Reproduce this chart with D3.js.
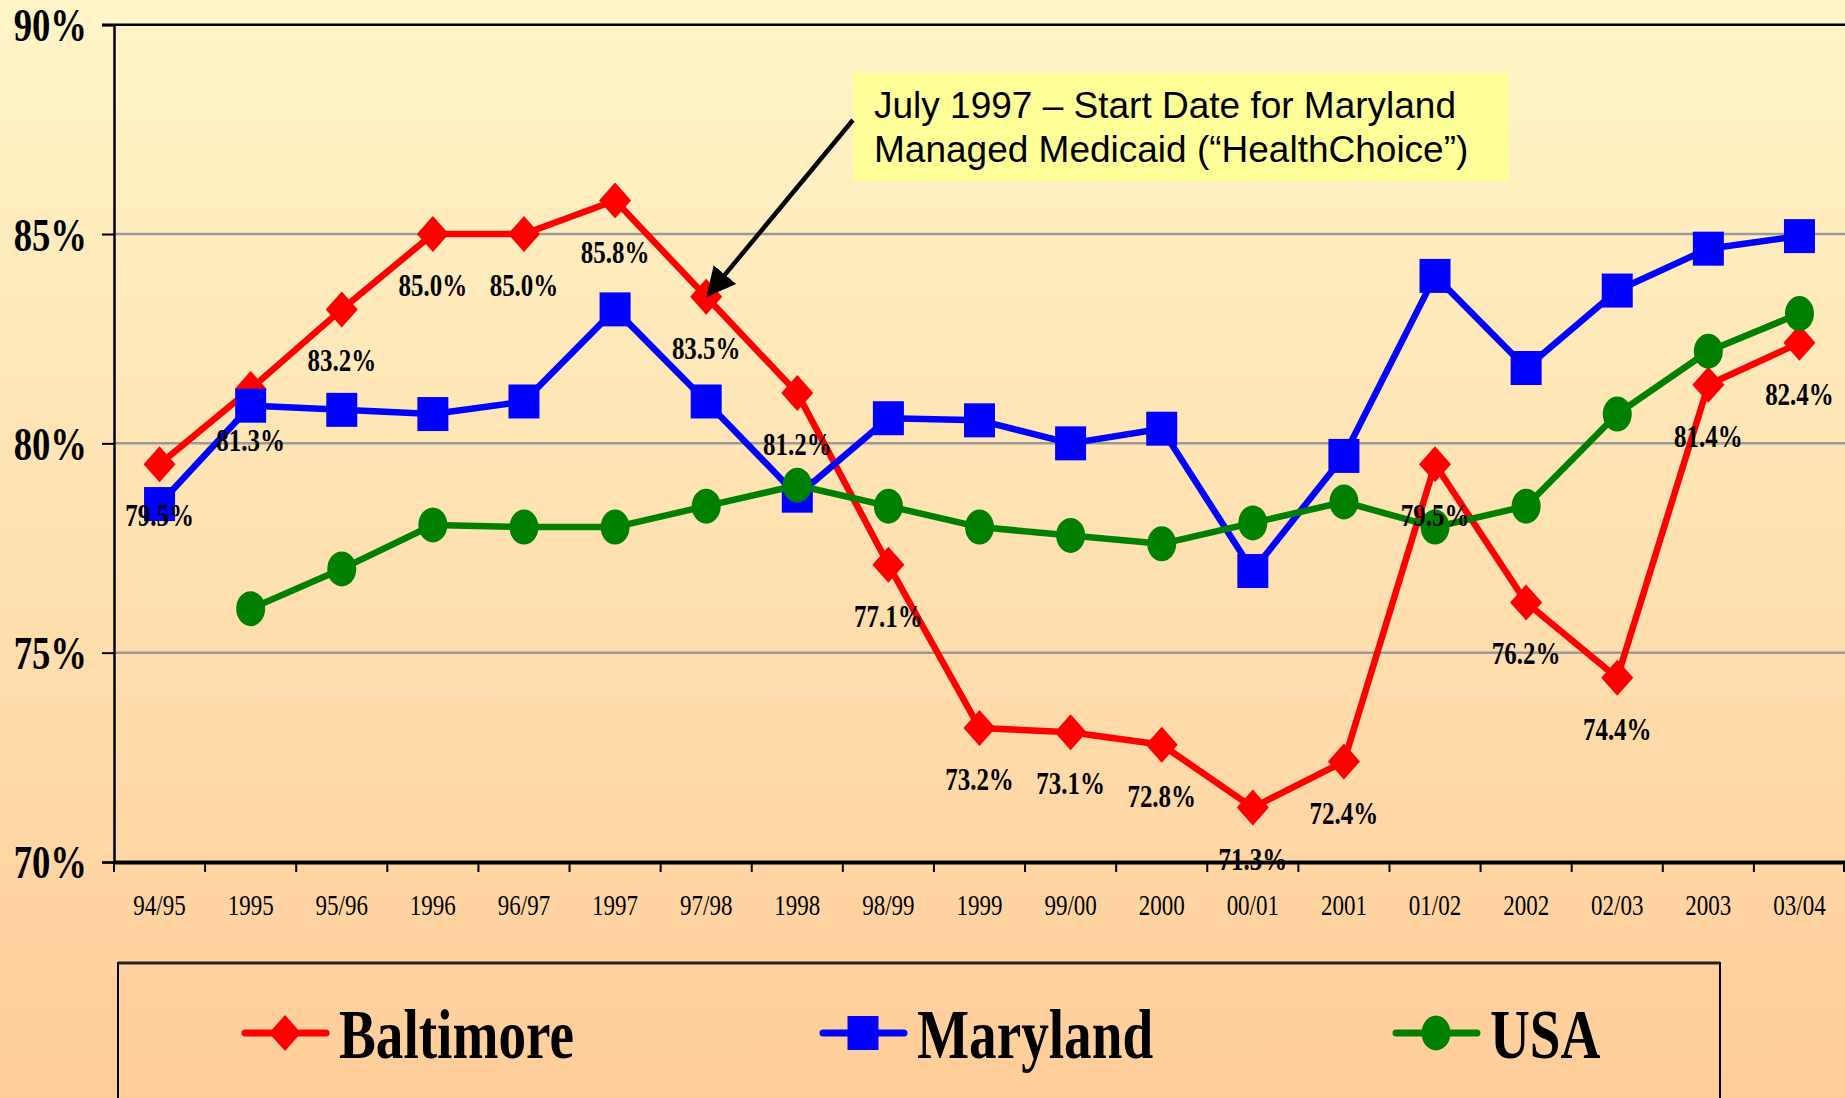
<!DOCTYPE html>
<html>
<head>
<meta charset="utf-8">
<script src="https://cdn.jsdelivr.net/npm/d3@7"></script>
<style>
  body { margin: 0; overflow: hidden; }
  svg { display: block; }
</style>
</head>
<body>
<svg id="chart" width="1845" height="1098"></svg>
<script>
// data
const categories = ["94/95", "1995", "95/96", "1996", "96/97", "1997", "97/98", "1998", "98/99", "1999",
  "99/00", "2000", "00/01", "2001", "01/02", "2002", "02/03", "2003", "03/04"];
const baltimore = [79.5, 81.3, 83.2, 85.0, 85.0, 85.8, 83.5, 81.2, 77.1, 73.2, 73.1, 72.8, 71.3, 72.4, 79.5, 76.2, 74.4, 81.4, 82.4];
const maryland = [78.55, 80.9, 80.8, 80.7, 81.0, 83.2, 81.0, 78.75, 80.6, 80.55, 80.0, 80.35, 76.95, 79.7, 84.0, 81.8, 83.65, 84.65, 84.95];
const usa = [null, 76.05, 77.0, 78.05, 78.0, 78.0, 78.5, 79.0, 78.5, 78.0, 77.8, 77.6, 78.1, 78.6, 78.0, 78.5, 80.7, 82.2, 83.1];
const yTicks = [70, 75, 80, 85, 90];
const gridTicks = [75, 80, 85];
const seriesNames = ["Baltimore", "Maryland", "USA"];
const noteLines = ["July 1997 \u2013 Start Date for Maryland", "Managed Medicaid (\u201cHealthChoice\u201d)"];

const serif = "'Liberation Serif', 'Times New Roman', serif";
const squeeze = 0.78; // the picture is squashed sideways, text too

const svg = d3.select("#chart");

// background gradient
const grad = svg.append("defs").append("linearGradient")
  .attr("id", "bg").attr("x1", 0).attr("y1", 0).attr("x2", 0).attr("y2", 1);
grad.append("stop").attr("offset", "0%").attr("stop-color", "#fff5c8");
grad.append("stop").attr("offset", "100%").attr("stop-color", "#ffcd9a");
svg.append("rect").attr("width", 1845).attr("height", 1098).attr("fill", "url(#bg)");

svg.select("defs").append("marker")
  .attr("id", "arrowHead")
  .attr("viewBox", "0 0 10 10")
  .attr("refX", 9).attr("refY", 5)
  .attr("markerWidth", 6.5).attr("markerHeight", 7)
  .attr("markerUnits", "strokeWidth")
  .attr("orient", "auto")
  .append("path").attr("d", "M0,0 L10,5 L0,10 Z").attr("fill", "#000");

const x = d3.scaleBand().domain(categories).range([114, 1845]).padding(0);
const y = d3.scaleLinear().domain([70, 90]).range([862, 24.7]);
const cx = c => x(c) + x.bandwidth() / 2;

// grid lines
svg.append("g")
  .selectAll("line")
  .data(gridTicks)
  .join("line")
  .attr("x1", 114).attr("x2", 1845)
  .attr("y1", d => y(d)).attr("y2", d => y(d))
  .attr("stroke", "#9a9a9a").attr("stroke-width", 2.5);

// top border
svg.append("line")
  .attr("x1", 102).attr("x2", 1845)
  .attr("y1", y(90)).attr("y2", y(90))
  .attr("stroke", "#000").attr("stroke-width", 2.5);

// y axis
const yAxis = svg.append("g")
  .attr("transform", "translate(114,0)")
  .call(d3.axisLeft(y).tickValues(yTicks).tickSize(12).tickFormat(d => d + "%"));
yAxis.select(".domain").attr("stroke", "#000").attr("stroke-width", 2.5);
yAxis.selectAll(".tick line").attr("stroke", "#000").attr("stroke-width", 2);
yAxis.selectAll(".tick text")
  .attr("font-family", serif).attr("font-size", 47).attr("font-weight", "bold").attr("fill", "#000")
  .attr("text-anchor", "end").attr("dy", "0.34em")
  .attr("x", -27 / squeeze)
  .attr("transform", `scale(${squeeze},1)`);

// x axis
const xAxis = svg.append("g")
  .attr("transform", `translate(0,${y(70)})`)
  .call(d3.axisBottom(x).tickSize(0));
xAxis.select(".domain").attr("stroke", "#000").attr("stroke-width", 4);
xAxis.selectAll(".tick text")
  .attr("font-family", serif).attr("font-size", 29.5).attr("fill", "#000")
  .attr("y", 53).attr("dy", 0)
  .attr("transform", `scale(${squeeze},1)`);
xAxis.selectAll("line.bound")
  .data(categories.map(c => x(c)).concat([x.range()[1] - 1]))
  .join("line")
  .attr("class", "bound")
  .attr("x1", d => d).attr("x2", d => d)
  .attr("y1", 0).attr("y2", 10)
  .attr("stroke", "#000").attr("stroke-width", 2);

// markers
function marker(g, shape, px, py, color) {
  if (shape === "diamond") {
    g.append("path")
      .attr("d", `M${px},${py - 18} L${px + 16},${py} L${px},${py + 18} L${px - 16},${py} Z`)
      .attr("fill", color);
  } else if (shape === "square") {
    g.append("rect")
      .attr("x", px - 15.5).attr("y", py - 17).attr("width", 31).attr("height", 34)
      .attr("fill", color);
  } else {
    g.append("ellipse")
      .attr("cx", px).attr("cy", py).attr("rx", 14.5).attr("ry", 17.5)
      .attr("fill", color);
  }
}

const series = [
  { name: seriesNames[0], values: baltimore, color: "#ff0000", shape: "diamond" },
  { name: seriesNames[1], values: maryland, color: "#0000ff", shape: "square" },
  { name: seriesNames[2], values: usa, color: "#008000", shape: "circle" }
];

const line = d3.line()
  .defined(d => d.v != null)
  .x(d => cx(d.c))
  .y(d => y(d.v));

series.forEach(s => {
  const pts = categories.map((c, i) => ({ c: c, v: s.values[i] }));
  const g = svg.append("g");
  g.append("path")
    .datum(pts)
    .attr("d", line)
    .attr("fill", "none")
    .attr("stroke", s.color)
    .attr("stroke-width", 6.5)
    .attr("stroke-linejoin", "round");
  pts.filter(d => d.v != null).forEach(d => marker(g, s.shape, cx(d.c), y(d.v), s.color));
});

// Baltimore value labels
svg.append("g")
  .selectAll("text")
  .data(categories.map((c, i) => ({ c: c, v: baltimore[i] })))
  .join("text")
  .attr("transform", d => `translate(${cx(d.c)},${y(d.v) + 62}) scale(${squeeze},1)`)
  .attr("text-anchor", "middle")
  .attr("font-family", serif).attr("font-size", 32).attr("font-weight", "bold")
  .attr("fill", "#000")
  .text(d => d.v.toFixed(1) + "%");

// annotation
svg.append("rect")
  .attr("x", 853).attr("y", 73).attr("width", 656).attr("height", 108)
  .attr("fill", "#ffff99");
svg.append("g")
  .selectAll("text")
  .data(noteLines)
  .join("text")
  .attr("x", 874).attr("y", (d, i) => 118 + i * 44)
  .attr("font-family", "'Liberation Sans', Arial, sans-serif")
  .attr("font-size", 37).attr("fill", "#000")
  .text(d => d);
svg.append("line")
  .attr("x1", 853).attr("y1", 120)
  .attr("x2", cx("97/98") + 2).attr("y2", y(83.5) - 2)
  .attr("stroke", "#000").attr("stroke-width", 4.5)
  .attr("marker-end", "url(#arrowHead)");

// legend
svg.append("rect")
  .attr("x", 118).attr("y", 963).attr("width", 1602).attr("height", 160)
  .attr("fill", "none").attr("stroke", "#000").attr("stroke-width", 2);
svg.append("line")
  .attr("x1", 118).attr("x2", 1720).attr("y1", 963).attr("y2", 963)
  .attr("stroke", "#222").attr("stroke-width", 3);

const legendX = [245, 823, 1396];
const legendY = 1033;
series.forEach((s, i) => {
  const g = svg.append("g");
  const lx = legendX[i];
  g.append("line")
    .attr("x1", lx).attr("x2", lx + 81)
    .attr("y1", legendY).attr("y2", legendY)
    .attr("stroke", s.color).attr("stroke-width", 7).attr("stroke-linecap", "round");
  marker(g, s.shape, lx + 40, legendY, s.color);
  g.append("text")
    .attr("transform", `translate(${lx + 94},${legendY + 25}) scale(${squeeze + 0.02},1)`)
    .attr("font-family", serif).attr("font-size", 69).attr("font-weight", "bold")
    .attr("fill", "#000")
    .text(s.name);
});
</script>
</body>
</html>
